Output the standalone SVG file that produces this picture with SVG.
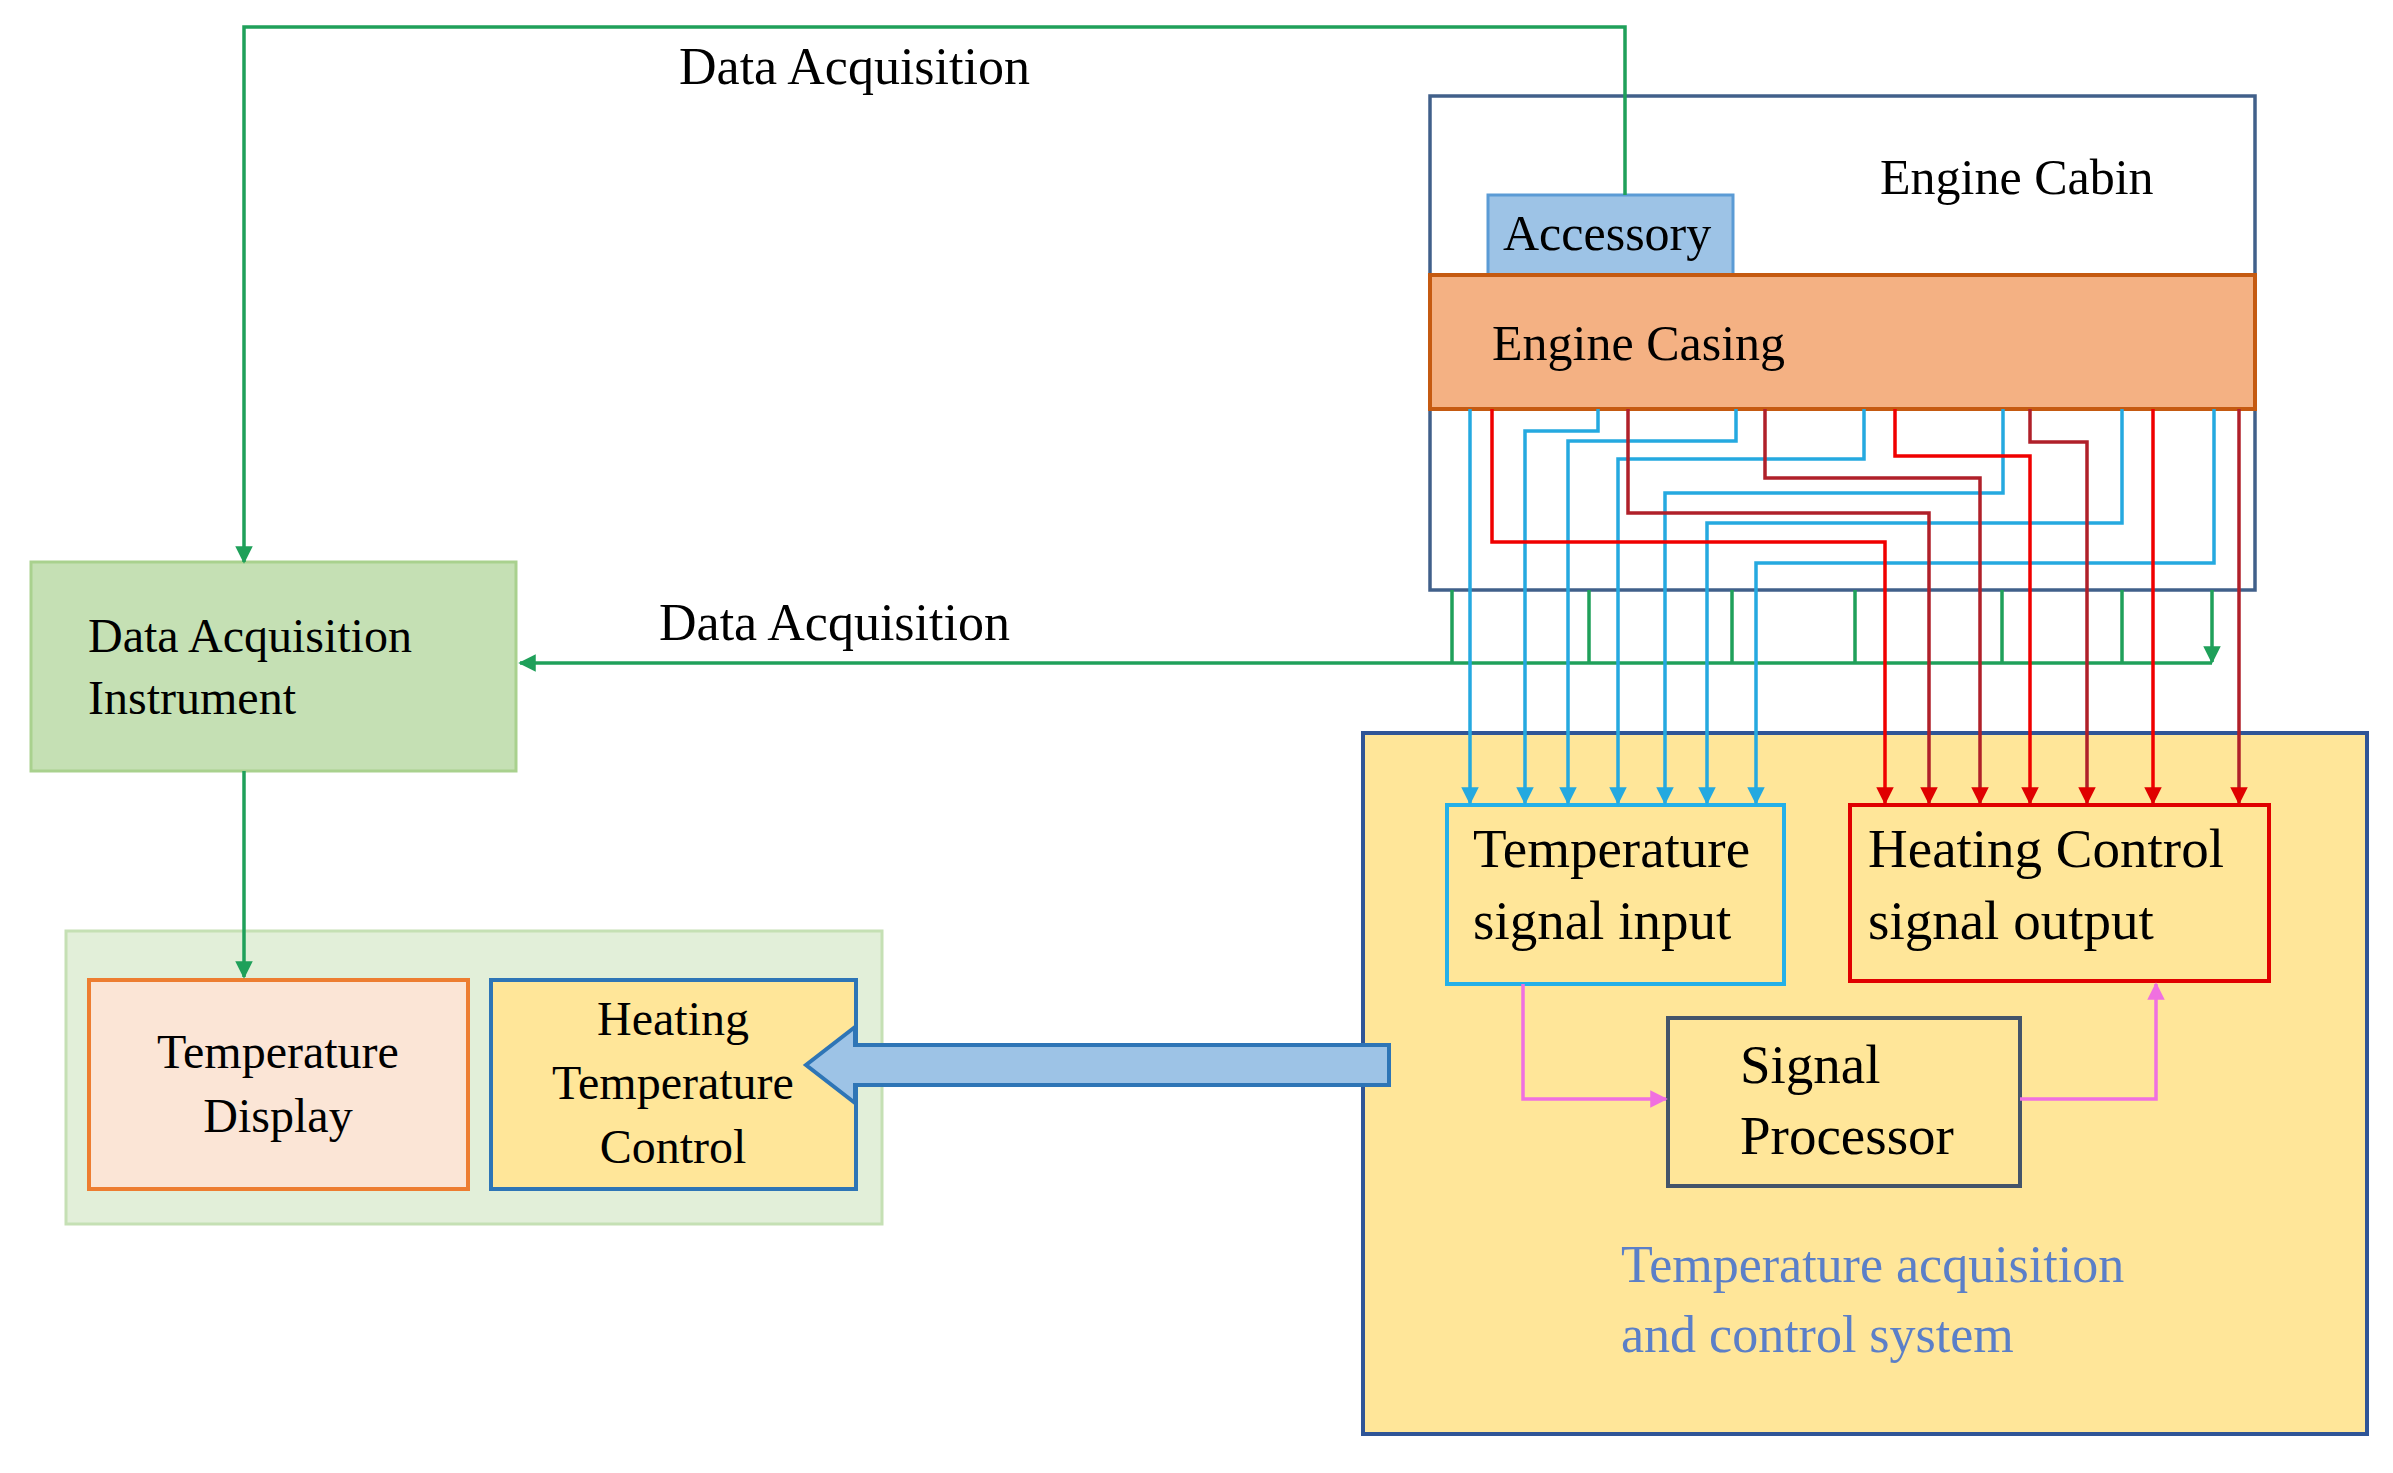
<svg xmlns="http://www.w3.org/2000/svg" width="2393" height="1473" viewBox="0 0 2393 1473">
<defs>
<marker id="ag" viewBox="0 0 10 10" refX="9" refY="5" markerWidth="5" markerHeight="6" orient="auto" markerUnits="strokeWidth"><path d="M0,0L10,5L0,10z" fill="#1fa05a"/></marker>
<marker id="ab" viewBox="0 0 10 10" refX="9" refY="5" markerWidth="5" markerHeight="6" orient="auto" markerUnits="strokeWidth"><path d="M0,0L10,5L0,10z" fill="#25a9e0"/></marker>
<marker id="ar" viewBox="0 0 10 10" refX="9" refY="5" markerWidth="5" markerHeight="6" orient="auto" markerUnits="strokeWidth"><path d="M0,0L10,5L0,10z" fill="#e00000"/></marker>
<marker id="ap" viewBox="0 0 10 10" refX="9" refY="5" markerWidth="5" markerHeight="6" orient="auto" markerUnits="strokeWidth"><path d="M0,0L10,5L0,10z" fill="#f070e0"/></marker>
</defs>
<style>
text{font-family:"Liberation Serif","Times New Roman",serif;fill:#000}
.g{fill:none;stroke:#1fa05a;stroke-width:3.5;marker-end:url(#ag)}
.b{fill:none;stroke:#25a9e0;stroke-width:3.5;marker-end:url(#ab)}
.r{fill:none;stroke:#f00000;stroke-width:3.5;marker-end:url(#ar)}
.d{fill:none;stroke:#b0202a;stroke-width:3.5;marker-end:url(#ar)}
.p{fill:none;stroke:#f070e0;stroke-width:3.5;marker-end:url(#ap)}
</style>
<rect width="2393" height="1473" fill="#fff"/>
<g id="system"><rect x="1363" y="733" width="1004" height="701" fill="#ffe699" stroke="#2f5597" stroke-width="4"/>
<text x="1621" y="1282" font-size="52" style="fill:#5b7fc8">Temperature acquisition</text>
<text x="1621" y="1352" font-size="52" style="fill:#5b7fc8">and control system</text></g>
<g id="cabin"><rect x="1430" y="96" width="825" height="494" fill="#fff" stroke="#41608a" stroke-width="3.5"/>
<text x="1880" y="194" font-size="50">Engine Cabin</text></g>
<g id="accessory"><rect x="1488" y="195" width="245" height="80" fill="#9dc3e6" stroke="#5b9bd5" stroke-width="3"/>
<text x="1503" y="250" font-size="50">Accessory</text></g>
<g id="casing"><rect x="1430" y="275" width="825" height="134" fill="#f4b183" stroke="#c55a11" stroke-width="4"/>
<text x="1492" y="360" font-size="50">Engine Casing</text></g>
<g id="instrument"><rect x="31" y="562" width="485" height="209" fill="#c5e0b4" stroke="#a9d18e" stroke-width="3"/>
<text x="88" y="652" font-size="48">Data Acquisition</text><text x="88" y="714" font-size="48">Instrument</text></g>
<g id="panel"><rect x="66" y="931" width="816" height="293" fill="#e2efd9" stroke="#c5e0b4" stroke-width="3"/></g>
<g id="display"><rect x="89" y="980" width="379" height="209" fill="#fbe5d6" stroke="#ed7d31" stroke-width="4"/>
<text x="278" y="1068" font-size="48" text-anchor="middle">Temperature</text><text x="278" y="1132" font-size="48" text-anchor="middle">Display</text></g>
<g id="htc"><rect x="491" y="980" width="365" height="209" fill="#ffe699" stroke="#2e75b6" stroke-width="4"/>
<text x="673" y="1035" font-size="48" text-anchor="middle">Heating</text><text x="673" y="1099" font-size="48" text-anchor="middle">Temperature</text><text x="673" y="1163" font-size="48" text-anchor="middle">Control</text></g>
<g id="sigin"><rect x="1447" y="805" width="337" height="179" fill="#ffe699" stroke="#25b0e8" stroke-width="4"/>
<text x="1473" y="867" font-size="55">Temperature</text><text x="1473" y="939" font-size="55">signal input</text></g>
<g id="heatout"><rect x="1850" y="805" width="419" height="176" fill="#ffe699" stroke="#e00000" stroke-width="4"/>
<text x="1868" y="867" font-size="55">Heating Control</text><text x="1868" y="939" font-size="55">signal output</text></g>
<g id="proc"><rect x="1668" y="1018" width="352" height="168" fill="#ffe699" stroke="#44546a" stroke-width="4"/>
<text x="1740" y="1083" font-size="55">Signal</text><text x="1740" y="1154" font-size="55">Processor</text></g>
<g id="connectors">
<path class="g" d="M1625,195V27H244V562"/>
<path class="g" d="M2212,663H520"/>
<path class="g" d="M244,771V977"/>
<path class="g" d="M1452,590V662M1589,590V662M1732,590V662M1855,590V662M2002,590V662M2122,590V662M2212,590V662"/>
<path class="b" d="M1470,409V803"/>
<path class="b" d="M1598,409V431H1525V803"/>
<path class="b" d="M1736,409V441H1568V803"/>
<path class="b" d="M1864,409V459H1618V803"/>
<path class="b" d="M2003,409V493H1665V803"/>
<path class="b" d="M2122,409V523H1707V803"/>
<path class="b" d="M2214,409V563H1756V803"/>
<path class="r" d="M1492,409V542H1885V803"/>
<path class="d" d="M1628,409V513H1929V803"/>
<path class="d" d="M1765,409V478H1980V803"/>
<path class="r" d="M1895,409V456H2030V803"/>
<path class="d" d="M2030,409V442H2087V803"/>
<path class="r" d="M2153,409V803"/>
<path class="d" d="M2239,409V803"/>
<path class="p" d="M1523,984V1099H1666"/>
<path class="p" d="M2020,1099H2156V984"/>
<path d="M1389,1045H855V1027L806,1065L855,1103V1085H1389Z" fill="#9dc3e6" stroke="#2e75b6" stroke-width="4"/>
</g>
<text x="679" y="84" font-size="52">Data Acquisition</text>
<text x="659" y="640" font-size="52">Data Acquisition</text>
</svg>
